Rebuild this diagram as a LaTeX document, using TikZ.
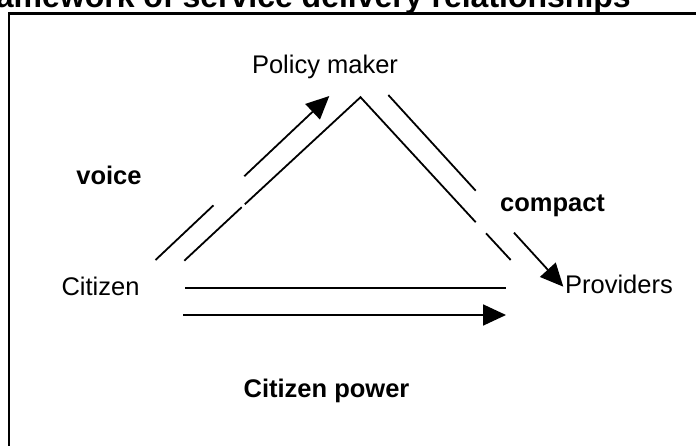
\documentclass[tikz,border=0pt]{standalone}
\usepackage{fontspec}
\setmainfont{Liberation Sans}
\usetikzlibrary{arrows.meta}
\begin{document}
\begin{tikzpicture}[x=1pt,y=-1pt,
  lbl/.style={inner sep=0pt,anchor=base,font=\fontsize{25.5}{30}\selectfont},
  blbl/.style={inner sep=0pt,anchor=base,font=\fontsize{25.5}{30}\selectfont\bfseries},
  ttl/.style={inner sep=0pt,anchor=base east,font=\fontsize{32}{38}\selectfont\bfseries},
  conn/.style={line width=1.8pt},
  arr/.style={conn,-{Triangle[length=23pt,width=21pt]}},
  frame/.style={line width=2.5pt}]
\useasboundingbox (0,0) rectangle (696,446);
\clip (0,0) rectangle (696,446);
% title (cut off by the picture's edge, as in the reference)
\node[ttl] (title) at (631,7.5) {Framework of service delivery relationships};
% frame
\draw[frame] (9,13.5) rectangle (730,480);
% texts
\node[lbl] (policy) at (325,74) {Policy maker};
\node[lbl] (citizen) at (100.5,295) {Citizen};
\node[lbl] (providers) at (619,293.3) {Providers};
\node[blbl] (voice) at (109,185) {voice};
\node[blbl] (compact) at (552.5,212) {compact};
\node[blbl] (power) at (326.5,397) {Citizen power};
% end points
\coordinate (v1a) at (155.5,260);
\coordinate (v1b) at (213.5,205.3);
\coordinate (v2a) at (244.3,176.2);
\coordinate (v2b) at (329.3,96);
\coordinate (l1a) at (184.3,260.7);
\coordinate (l1b) at (241.7,207.2);
\coordinate (l2a) at (244.8,204.3);
\coordinate (apex) at (360.5,97.2);
\coordinate (r1b) at (475.7,222.2);
\coordinate (r2a) at (486,233.3);
\coordinate (r2b) at (510.7,260);
\coordinate (c1a) at (388.3,95);
\coordinate (c1b) at (475.7,190.7);
\coordinate (c2a) at (514,232.7);
\coordinate (c2b) at (563.3,286.7);
\coordinate (h1a) at (185,288);
\coordinate (h1b) at (506,288);
\coordinate (h2a) at (183.3,315);
\coordinate (h2b) at (506,315);
% voice
\draw[conn] (v1a) -- (v1b);
\draw[arr] (v2a) -- (v2b);
% triangle
\draw[conn] (l1a) -- (l1b);
\draw[conn] (l2a) -- (apex) -- (r1b);
\draw[conn] (r2a) -- (r2b);
\draw[conn] (h1a) -- (h1b);
% compact
\draw[conn] (c1a) -- (c1b);
\draw[arr] (c2a) -- (c2b);
% citizen power
\draw[arr] (h2a) -- (h2b);
\end{tikzpicture}
\end{document}
